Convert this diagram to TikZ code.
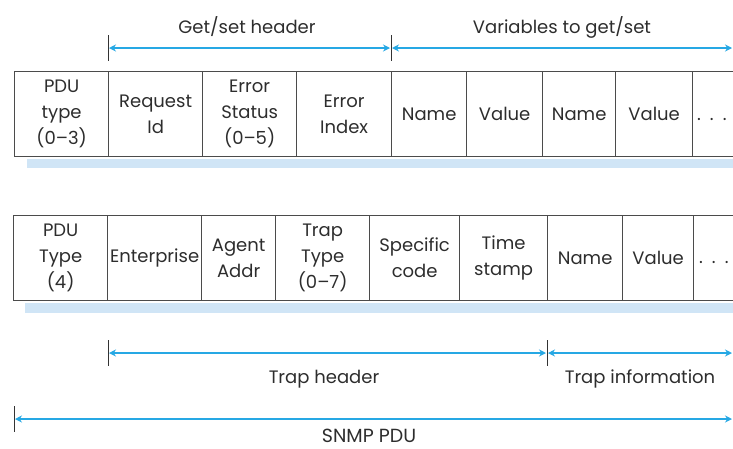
\documentclass[tikz,border=0pt]{standalone}
\usepackage{fontspec}
\setmainfont{Poppins}
\usetikzlibrary{arrows.meta}
\definecolor{arr}{RGB}{38,168,228}
\definecolor{bandblue}{RGB}{208,229,246}
\definecolor{ink}{RGB}{45,45,45}
\definecolor{rule}{RGB}{75,75,75}
\begin{document}
\begin{tikzpicture}[x=1pt,y=-1pt,
  cell/.style={draw=rule, line width=1.3pt, minimum height=85pt, inner sep=0pt,
    anchor=north west, align=center, text=ink, font=\fontsize{18}{26}\selectfont},
  lbl/.style={text=ink, font=\fontsize{18}{20}\selectfont, inner sep=0pt, anchor=base},
  tick/.style={draw=black!80, line width=1pt},
  dim/.style={draw=arr, line width=1.3pt, shorten <=1pt, shorten >=1pt,
    {Stealth[length=7pt,width=7pt]}-{Stealth[length=7pt,width=7pt]}},
]
\useasboundingbox (0,0) rectangle (733,448);
\clip (0,0) rectangle (733,448);

% ---------- top row (Get/Set PDU)
\node[cell, minimum width=94pt] (t1) at (14,71) {PDU\\type\\(0–3)};
\node[cell, minimum width=94pt] (t2) at (108,71) {Request\\Id};
\node[cell, minimum width=94pt] (t3) at (202,71) {Error\\Status\\(0–5)};
\node[cell, minimum width=95pt] (t4) at (296,71) {Error\\Index};
\node[cell, minimum width=75pt] (t5) at (391,71) {Name};
\node[cell, minimum width=76pt] (t6) at (466,71) {Value};
\node[cell, minimum width=73pt] (t7) at (542,71) {Name};
\node[cell, minimum width=77pt] (t8) at (615,71) {Value};
\node[cell, minimum width=80pt] (t9) at (692,71) {};
\node[lbl, anchor=base west] (t9d) at (697,120) {.\hspace{9pt}.\hspace{9pt}.};
\fill[bandblue] ([xshift=13pt,yshift=-2pt]t1.south west) rectangle ([yshift=-11pt]t9.south east);

% ---------- bottom row (Trap PDU)
\node[cell, minimum width=94pt] (b1) at (13,215) {PDU\\Type\\(4)};
\node[cell, minimum width=94pt] (b2) at (107,215) {Enterprise};
\node[cell, minimum width=74pt] (b3) at (201,215) {Agent\\Addr};
\node[cell, minimum width=94pt] (b4) at (275,215) {Trap\\Type\\(0–7)};
\node[cell, minimum width=90pt] (b5) at (369,215) {Specific\\code};
\node[cell, minimum width=88pt] (b6) at (459,215) {Time\\stamp};
\node[cell, minimum width=75pt] (b7) at (547,215) {Name};
\node[cell, minimum width=71pt] (b8) at (622,215) {Value};
\node[cell, minimum width=80pt] (b9) at (693,215) {};
\node[lbl, anchor=base west] (b9d) at (699,263) {.\hspace{9pt}.\hspace{9pt}.};
\fill[bandblue] ([xshift=12pt,yshift=-2pt]b1.south west) rectangle ([yshift=-12pt]b9.south east);

% ---------- dimension lines
\coordinate (gA) at (108,48);
\coordinate (gB) at (391,48);
\coordinate (gC) at (733,48);
\coordinate (hA) at (108,353);
\coordinate (hB) at (547,353);
\coordinate (hC) at (733,353);
\coordinate (sA) at (14,419);
\coordinate (sC) at (733,419);

\foreach \c in {gA,gB,hA,hB,sA}
  \draw[tick] ([yshift=13pt]\c) -- ([yshift=-13pt]\c);

\draw[dim] (gA) -- (gB);
\draw[dim] (gB) -- (gC);
\draw[dim] (hA) -- (hB);
\draw[dim] (hB) -- (hC);
\draw[dim] (sA) -- (sC);

\node[lbl] (lgs) at (247,33) {Get/set header};
\node[lbl] (lvar) at (562,33) {Variables to get/set};
\node[lbl] (lth) at (324,383) {Trap header};
\node[lbl] (lti) at (640,383) {Trap information};
\node[lbl, font=\fontsize{19}{21}\selectfont] (lsn) at (369,442) {SNMP PDU};
\end{tikzpicture}
\end{document}
